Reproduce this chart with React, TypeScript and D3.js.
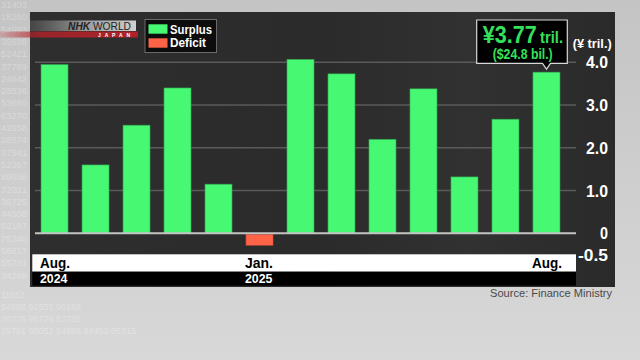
import React from 'react';
import * as d3 from 'd3';

const months = ['2024-08', '2024-09', '2024-10', '2024-11', '2024-12', '2025-01', '2025-02', '2025-03', '2025-04', '2025-05', '2025-06', '2025-07', '2025-08'];
const monthLabels = ['Aug.', '', '', '', '', 'Jan.', '', '', '', '', '', '', 'Aug.'];
const yearLabels = ['2024', '', '', '', '', '2025', '', '', '', '', '', '', ''];
const balance = [3.95, 1.6, 2.53, 3.4, 1.15, -0.28, 4.07, 3.73, 2.2, 3.38, 1.32, 2.67, 3.77];
const yTicks = [4, 3, 2, 1, 0, -0.5];
const yTickLabels = ['4.0', '3.0', '2.0', '1.0', '0', '-0.5'];
const legendItems = ['Surplus', 'Deficit'];
const bgDigits = ['31403', '18260', '54993', '35688', '52421', '37789', '24642', '28536', '53680', '63270', '42958', '28574', '37541', '52367', '89036', '72311', '36725', '44508', '62187', '75340', '56817', '55791', '34288'];
const bgBottom = ['11551', '54588  92555  50168', '38776  95776  53785', '35791  58052  54986  84452  05315'];

const W = 640;
const H = 360;
const GREEN = '#47f873';
const RED = '#ff6347';
const TEXT_GREEN = '#35e05a';
const BOLD = '"Liberation Sans", Arial, sans-serif';

export default function App() {
  const x = d3.scaleBand<string>().domain(months).range([41, 560]).paddingInner(0.34).paddingOuter(0);
  const y = d3.scaleLinear().domain([-0.5, 4]).range([254.7, 62.3]);
  const y0 = y(0);
  const last = months[months.length - 1];
  const lastX = (x(last) as number) + x.bandwidth() / 2;
  const lastVal = balance[balance.length - 1];
  const tickWidth = (s: string) => (s.length === 1 ? 8 : s.length === 3 ? 22 : 30);

  return (
    <svg width={W} height={H} style={{ position: 'absolute', left: 0, top: 0 }}>
      <defs>
        <linearGradient id="bg" x1="0" y1="0" x2="0" y2="1">
          <stop offset="0" stopColor="#c4c4c4" />
          <stop offset="0.7" stopColor="#d2d2d2" />
          <stop offset="1" stopColor="#d8d8d8" />
        </linearGradient>
        <linearGradient id="panel" x1="0" y1="0" x2="1" y2="0">
          <stop offset="0" stopColor="#2e2e2e" />
          <stop offset="0.5" stopColor="#2b2b2b" />
          <stop offset="0.75" stopColor="#313131" />
          <stop offset="1" stopColor="#2a2a2a" />
        </linearGradient>
        <linearGradient id="logo" x1="0" y1="0" x2="1" y2="0">
          <stop offset="0" stopColor="#555" stopOpacity="0.6" />
          <stop offset="0.5" stopColor="#999" />
          <stop offset="1" stopColor="#d0d0d0" />
        </linearGradient>
        <linearGradient id="logoRed" x1="0" y1="0" x2="1" y2="0">
          <stop offset="0" stopColor="#c0272d" stopOpacity="0.2" />
          <stop offset="0.3" stopColor="#b3222a" stopOpacity="0.8" />
          <stop offset="1" stopColor="#b0222a" />
        </linearGradient>
      </defs>

      {/* background */}
      <rect x={0} y={0} width={W} height={H} fill="url(#bg)" />
      <g fill="#ffffff" fillOpacity={0.3} fontFamily={BOLD} fontSize={9}>
        {bgDigits.map((s, i) => (
          <text key={i} x={1} y={8 + i * 12.3} textLength={26} lengthAdjust="spacingAndGlyphs">{s}</text>
        ))}
        {bgBottom.map((s, i) => (
          <text key={'b' + i} x={1} y={298 + i * 12}>{s}</text>
        ))}
      </g>

      {/* panel */}
      <rect x={30} y={12} width={585} height={275} fill="url(#panel)" />

      {/* logo */}
      <rect x={30} y={20.5} width={106} height={10.5} fill="url(#logo)" />
      <rect x={0} y={31.5} width={138} height={6} fill="url(#logoRed)" />
      <text x={68} y={30} fontFamily={BOLD} fontSize={10.5} fill="#222" textLength={63} lengthAdjust="spacingAndGlyphs">
        <tspan fontStyle="italic" fontWeight="bold">NHK </tspan>
        <tspan>WORLD</tspan>
      </text>
      <text x={98} y={36.8} fontFamily={BOLD} fontSize={5} fill="#fff" fontWeight="bold" textLength={32} lengthAdjust="spacing">JAPAN</text>

      {/* legend */}
      <rect x={145} y={19.5} width={71.5} height={33} fill="#0d0d0d" stroke="#6a6a6a" strokeWidth={1} />
      {legendItems.map((d, i) => (
        <g key={d}>
          <rect x={148.5} y={24.3 + i * 14} width={19} height={9.4} fill={i === 0 ? GREEN : RED} />
          <text x={170} y={33.6 + i * 13.6} fill="#fff" fontFamily={BOLD} fontWeight="bold" fontSize={12.5}
            textLength={i === 0 ? 42 : 36} lengthAdjust="spacingAndGlyphs">{d}</text>
        </g>
      ))}

      {/* gridlines */}
      {yTicks.filter(t => t > 0).map(t => (
        <line key={t} x1={35} x2={576} y1={y(t)} y2={y(t)} stroke="#5a5a5a" strokeWidth={1.5} />
      ))}

      {/* bars */}
      {balance.map((v, i) => (
        <rect
          key={months[i]}
          x={x(months[i])}
          y={v >= 0 ? y(v) : y0 + 1}
          width={x.bandwidth()}
          height={Math.abs(y(v) - y0) - (v >= 0 ? 0 : 1)}
          fill={v >= 0 ? GREEN : RED}
          stroke={v >= 0 ? '#2f9a4c' : '#b84a34'}
          strokeWidth={0.6}
        />
      ))}

      {/* zero line */}
      <line x1={35} x2={576} y1={y0} y2={y0} stroke="#c4c4c4" strokeWidth={2} />

      {/* y tick labels */}
      <text x={572.7} y={47.5} fill="#fff" fontFamily={BOLD} fontWeight="bold" fontSize={13}
        textLength={39} lengthAdjust="spacingAndGlyphs">(¥ tril.)</text>
      {yTicks.map((t, i) => (
        <text key={t} x={608 - tickWidth(yTickLabels[i])} y={y(t) + 6} fill="#fff" fontFamily={BOLD} fontWeight="bold" fontSize={17}
          textLength={tickWidth(yTickLabels[i])} lengthAdjust="spacingAndGlyphs">
          {yTickLabels[i]}
        </text>
      ))}

      {/* x axis band */}
      <rect x={32.3} y={254.3} width={543.7} height={17.4} fill="#ffffff" />
      <rect x={32.3} y={271.7} width={543.7} height={14} fill="#000000" />
      {months.map((m, i) => (
        <g key={m}>
          {monthLabels[i] && (
            <text x={(x(m) as number) - 1} y={268} fill="#000" fontFamily={BOLD} fontWeight="bold" fontSize={14}
              textLength={monthLabels[i] === 'Jan.' ? 28 : 30} lengthAdjust="spacingAndGlyphs">{monthLabels[i]}</text>
          )}
          {yearLabels[i] && (
            <text x={(x(m) as number) - 1} y={283} fill="#fff" fontFamily={BOLD} fontWeight="bold" fontSize={12.5}
              textLength={27.5} lengthAdjust="spacingAndGlyphs">{yearLabels[i]}</text>
          )}
        </g>
      ))}

      {/* callout */}
      <path
        d={`M476.7,20 H567.3 V63.3 H${lastX + 4} L${lastX},${y(lastVal) - 3} L${lastX - 4},63.3 H476.7 Z`}
        fill="#000"
        stroke="#d8d8d8"
        strokeWidth={1.2}
      />
      <text x={482.7} y={42.7} fill={TEXT_GREEN} fontFamily={BOLD} fontWeight="bold" fontSize={24}
        textLength={54} lengthAdjust="spacingAndGlyphs">¥{lastVal.toFixed(2)}</text>
      <text x={540} y={42.7} fill={TEXT_GREEN} fontFamily={BOLD} fontWeight="bold" fontSize={17}
        textLength={23} lengthAdjust="spacingAndGlyphs">tril.</text>
      <text x={492.7} y={59} fill={TEXT_GREEN} fontFamily={BOLD} fontWeight="bold" fontSize={14}
        textLength={60} lengthAdjust="spacingAndGlyphs">($24.8 bil.)</text>

      {/* source */}
      <text x={490} y={296.5} fill="#4a4a4a" fontFamily={BOLD} fontSize={10.5}
        textLength={122} lengthAdjust="spacingAndGlyphs">Source: Finance Ministry</text>
    </svg>
  );
}
